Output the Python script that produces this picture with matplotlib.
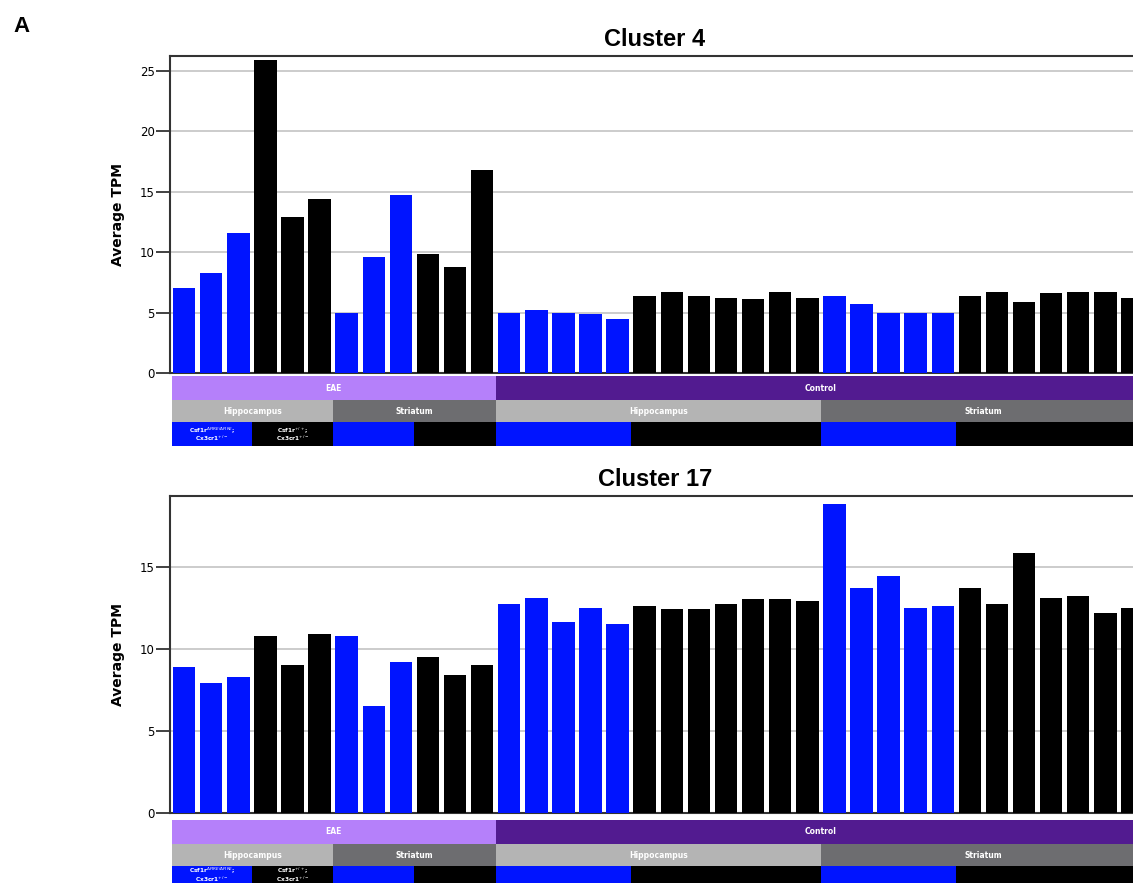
import matplotlib
matplotlib.use("Agg")
import matplotlib.pyplot as plt
import numpy as np

# average TPM per sample group, in plotting order
cluster4 = [7.0, 8.3, 11.6, 25.9, 12.9, 14.4, 5.0, 9.6, 14.7, 9.8, 8.8, 16.8,
            5.0, 5.2, 5.0, 4.9, 4.5,
            6.4, 6.7, 6.4, 6.2, 6.1, 6.7, 6.2,
            6.4, 5.7, 5.0, 5.0, 5.0,
            6.4, 6.7, 5.9, 6.6, 6.7, 6.7, 6.2]
cluster17 = [8.9, 7.9, 8.3, 10.8, 9.0, 10.9, 10.8, 6.5, 9.2, 9.5, 8.4, 9.0,
             12.7, 13.1, 11.6, 12.5, 11.5,
             12.6, 12.4, 12.4, 12.7, 13.0, 13.0, 12.9,
             18.8, 13.7, 14.4, 12.5, 12.6,
             13.7, 12.7, 15.8, 13.1, 13.2, 12.2, 12.5]

# annotation tracks: (label, number of bars)
conditions = [("EAE", 12), ("Control", 24)]
regions = [("Hippocampus", 6), ("Striatum", 6), ("Hippocampus", 12), ("Striatum", 12)]
genotypes = [("mut", 3), ("wt", 3), ("mut", 3), ("wt", 3),
             ("mut", 5), ("wt", 7), ("mut", 5), ("wt", 7)]
geno_labels = {"mut": "Csf1r$^{\\Delta FIRE/\\Delta FIRE}$;\nCx3cr1$^{+/-}$",
               "wt": "Csf1r$^{+/+}$;\nCx3cr1$^{+/-}$"}

BLUE = "#0014ff"
cond_colors = {"EAE": "#b580fa", "Control": "#521b90"}
region_colors = {"Hippocampus": "#b4b4b4", "Striatum": "#6d6d70"}
geno_colors = {"mut": BLUE, "wt": "black"}

W, H = 1133, 883
fig = plt.figure(figsize=(W / 100, H / 100), dpi=100)


def px_axes(left, top, right, bottom):
    return fig.add_axes([left / W, 1 - bottom / H, (right - left) / W, (bottom - top) / H])


bar_colors = []
for g, n in genotypes:
    bar_colors += [geno_colors[g]] * n
x = np.arange(len(cluster4))
xlim = (-0.52, 35.28)


def draw_panel(values, title, top, bottom, ymax, ticks, ann_top, geno_y=12):
    ax = px_axes(170, top, 1140, bottom)
    ax.bar(x, values, width=0.83, color=bar_colors, edgecolor="none", zorder=3)
    ax.set_xlim(*xlim)
    ax.set_ylim(0, ymax)
    ax.set_yticks(ticks)
    ax.set_xticks([])
    ax.grid(axis="y", color="#cccccc", linewidth=1.4)
    ax.set_axisbelow(True)
    ax.tick_params(axis="y", length=10, width=1.3, pad=1, labelsize=8.5, color="#333333")
    for side in ["left", "top", "bottom"]:
        ax.spines[side].set_color("#333333")
        ax.spines[side].set_linewidth(1.5)
    ax.spines["right"].set_visible(False)
    ax.set_ylabel("Average TPM", fontsize=10, fontweight="bold")
    ax.yaxis.set_label_coords(-0.046, 0.5)
    ax.set_title(title, fontsize=17, fontweight="bold", family="Liberation Sans", pad=7)

    # annotation strip under the bars
    an = px_axes(170, ann_top, 1140, ann_top + 70)
    an.set_xlim(*xlim)
    an.set_ylim(0, 70)
    an.axis("off")
    rows = [(conditions, cond_colors, 46, 24, 5.5),
            (regions, region_colors, 24, 22, 5.5),
            (genotypes, geno_colors, 0, 24, 4.2)]
    for groups, colors, y0, h, fs in rows:
        start = -0.45
        edge = -0.5
        for i, (label, n) in enumerate(groups):
            edge += n
            end = edge
            an.broken_barh([(start, end - start)], (y0, h), facecolors=colors[label],
                           edgecolor="none")
            if groups is genotypes:
                # only the first two genotype cells carry a legend text
                if i < 2:
                    an.text((start + end) / 2, geno_y, geno_labels[label], color="white",
                            fontsize=fs, fontweight="bold", ha="center", va="center",
                            linespacing=0.85)
            else:
                an.text((start + end) / 2, y0 + h / 2, label, color="white", fontsize=fs,
                        fontweight="bold", ha="center", va="center")
            start = end
    return ax


draw_panel(cluster4, "Cluster 4", 56, 373, 26.2, [0, 5, 10, 15, 20, 25], 376)
# the lower strip runs off the bottom edge, so keep its legend text in the visible part
draw_panel(cluster17, "Cluster 17", 496, 813, 19.3, [0, 5, 10, 15], 820, geno_y=15.5)

fig.text(13 / W, 1 - 26 / H, "A", fontsize=16, fontweight="bold",
         family="Liberation Sans", va="center", ha="left")

fig.savefig("out.png", dpi=100)
